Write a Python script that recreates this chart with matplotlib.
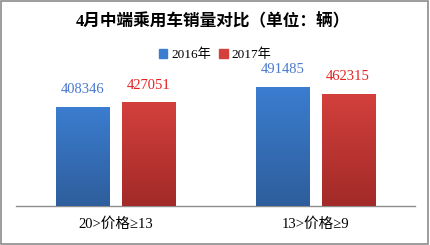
import matplotlib
matplotlib.use("Agg")
import matplotlib.pyplot as plt
import numpy as np
from matplotlib.colors import LinearSegmentedColormap
from matplotlib.patches import Rectangle

plt.rcParams['font.family'] = ['Liberation Serif', 'Noto Sans CJK SC', 'DejaVu Sans']

categories = ["20>价格≥13", "13>价格≥9"]
series_names = ["2016年", "2017年"]
values_2016 = [408346, 491485]
values_2017 = [427051, 462315]
title = "4月中端乘用车销量对比（单位：辆）"

blue_top, blue_bot = "#3b7dd0", "#2e5e9c"
red_top, red_bot = "#d3403c", "#a22a28"
blue_label, red_label = "#4a78d0", "#e42020"

fig = plt.figure(figsize=(4.3, 2.45), dpi=100)
fig.patch.set_facecolor("white")
fig.patches.append(Rectangle((0.002, 0.006), 0.993, 0.99, transform=fig.transFigure,
                             fill=False, edgecolor="#8c8c8c", linewidth=1.2))

ax = fig.add_axes([0.037, 0.159, 0.928, 0.637])
x = np.arange(len(categories))
w = 0.266
off = 0.165
bars1 = ax.bar(x - off, values_2016, w, color=blue_top, label=series_names[0], zorder=2)
bars2 = ax.bar(x + off, values_2017, w, color=red_top, label=series_names[1], zorder=2)

def grad(bars, top, bot):
    cmap = LinearSegmentedColormap.from_list("g", [bot, top])
    for b in bars:
        x0, y0 = b.get_x(), b.get_y()
        bw, bh = b.get_width(), b.get_height()
        img = ax.imshow(np.linspace(0, 1, 100).reshape(-1, 1), cmap=cmap, origin="lower",
                        extent=[x0, x0 + bw, y0, y0 + bh], aspect="auto", zorder=3)
        img.set_clip_path(b)

grad(bars1, blue_top, blue_bot)
grad(bars2, red_top, red_bot)

for bars, col in ((bars1, blue_label), (bars2, red_label)):
    for b, v in zip(bars, [b.get_height() for b in bars]):
        ax.annotate(f"{int(v)}", (b.get_x() + b.get_width() / 2, v), xytext=(0, 12.5),
                    textcoords="offset points", ha="center", va="center",
                    fontsize=10.5, color=col)

ax.set_xlim(-0.5, 1.5)
ax.set_ylim(0, 643000)
ax.set_xticks(x)
ax.set_xticklabels(categories, fontsize=10.5)
ax.tick_params(axis="x", length=0, pad=8)
ax.set_yticks([])
for s in ("left", "right", "top"):
    ax.spines[s].set_visible(False)
ax.spines["bottom"].set_color("#8c8c8c")
ax.spines["bottom"].set_linewidth(1.0)
ax.set_facecolor("none")

fig.text(0.495, 0.91, title, ha="center", va="center", fontsize=12, fontweight="bold")

leg = fig.legend(handles=[Rectangle((0, 0), 1, 1, color=blue_top), Rectangle((0, 0), 1, 1, color=red_top)],
                 labels=series_names, loc="center", bbox_to_anchor=(0.5, 0.776), ncol=2,
                 frameon=False, fontsize=9.5, handlelength=0.65, handleheight=0.65,
                 handletextpad=0.3, columnspacing=0.6, borderpad=0)

fig.savefig("out.png", dpi=100)
